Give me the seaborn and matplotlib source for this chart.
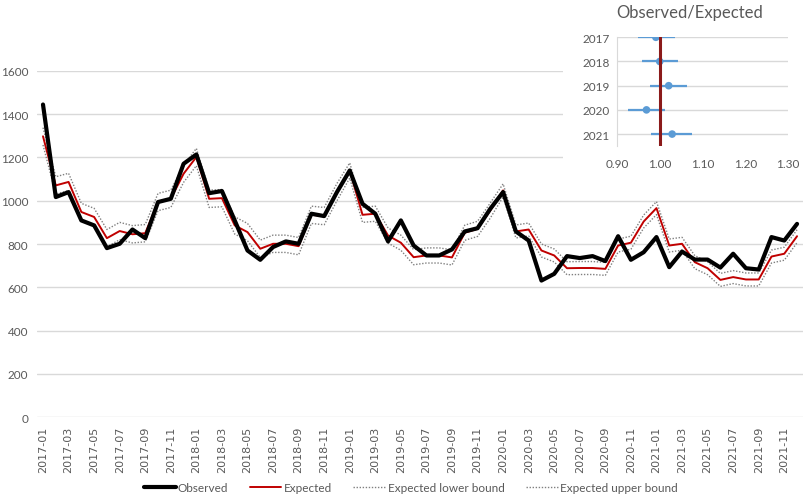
import matplotlib
matplotlib.use("Agg")
import matplotlib.pyplot as plt
import numpy as np
import seaborn as sns

months = [f"{y}-{m:02d}" for y in range(2017, 2022) for m in range(1, 13)]

observed = [
    1445, 1017, 1040, 909, 886, 781, 801, 867, 827, 994, 1009, 1171,
    1214, 1035, 1045, 909, 770, 727, 786, 812, 801, 940, 929, 1040,
    1140, 986, 940, 812, 909, 793, 747, 747, 775, 858, 873, 963,
    1040, 858, 816, 631, 662, 744, 735, 744, 721, 836, 727, 762,
    832, 693, 765, 728, 728, 691, 755, 688, 682, 832, 816, 893,
]
expected = [
    1298, 1071, 1087, 948, 925, 827, 860, 845, 850, 994, 1009, 1125,
    1202, 1009, 1012, 886, 855, 778, 801, 801, 790, 935, 929, 1040,
    1140, 935, 940, 839, 806, 739, 747, 747, 738, 852, 870, 955,
    1048, 858, 867, 770, 747, 688, 689, 689, 685, 793, 806, 904,
    966, 793, 801, 716, 688, 634, 647, 636, 636, 742, 755, 836,
]
lower = [
    1258, 1031, 1047, 908, 885, 787, 820, 805, 810, 954, 969, 1085,
    1162, 969, 972, 846, 815, 738, 761, 761, 750, 895, 889, 1000,
    1105, 900, 905, 804, 771, 704, 712, 712, 703, 817, 835, 920,
    1018, 828, 837, 740, 717, 658, 659, 659, 655, 763, 776, 874,
    936, 763, 771, 686, 658, 604, 617, 606, 606, 712, 725, 806,
]
upper = [
    1338, 1111, 1127, 988, 965, 867, 900, 885, 890, 1034, 1049, 1165,
    1242, 1049, 1052, 926, 895, 818, 841, 841, 830, 975, 969, 1080,
    1175, 970, 975, 874, 841, 774, 782, 782, 773, 887, 905, 990,
    1078, 888, 897, 800, 777, 718, 719, 719, 715, 823, 836, 934,
    996, 823, 831, 746, 718, 664, 677, 666, 666, 772, 785, 866,
]

years = ["2017", "2018", "2019", "2020", "2021"]
ratio = [0.991, 1.000, 1.021, 0.969, 1.029]
ratio_low = [0.949, 0.959, 0.978, 0.926, 0.980]
ratio_high = [1.035, 1.043, 1.064, 1.012, 1.076]

sns.set_style("white")
plt.rcParams["font.family"] = ["Lato", "DejaVu Sans"]
TEXT = "#595959"
GRID = "#D9D9D9"

fig = plt.figure(figsize=(8.1, 5.02), dpi=100)
ax = fig.add_axes([0.0452, 0.1673, 0.9467, 0.6893])

x = np.arange(len(months))
sns.lineplot(x=x, y=upper, ax=ax, color="#808080", lw=1, linestyle=(0, (1, 1.2)),
             label="Expected upper bound", zorder=2)
sns.lineplot(x=x, y=lower, ax=ax, color="#808080", lw=1, linestyle=(0, (1, 1.2)),
             label="Expected lower bound", zorder=2)
sns.lineplot(x=x, y=observed, ax=ax, color="black", lw=3, label="Observed", zorder=4)
sns.lineplot(x=x, y=expected, ax=ax, color="#C00000", lw=1.4, label="Expected", zorder=3)

ax.set_xlim(-0.5, len(months) - 0.5)
ax.set_ylim(0, 1600)
ax.set_yticks(range(0, 1601, 200))
ax.set_xticks(x[::2])
ax.set_xticklabels(months[::2], rotation=90, fontsize=8, color=TEXT, family="DejaVu Sans")
ax.tick_params(axis="y", labelsize=8.5, colors=TEXT, length=0, pad=6)
ax.tick_params(axis="x", length=0, pad=6)
ax.yaxis.grid(True, color=GRID, lw=1)
ax.set_axisbelow(True)
for s in ax.spines.values():
    s.set_visible(False)
ax.set_xlabel("")
ax.set_ylabel("")

handles, labels = ax.get_legend_handles_labels()
order = [labels.index(n) for n in ["Observed", "Expected", "Expected lower bound", "Expected upper bound"]]
ax.legend([handles[i] for i in order], [labels[i] for i in order],
          loc="center", bbox_to_anchor=(0.507, 0.026), bbox_transform=fig.transFigure,
          ncol=4, frameon=False, fontsize=8.5, handlelength=2.7, columnspacing=1.8,
          handletextpad=0.2, labelcolor=TEXT)

# white chart box behind the inset hides the main gridlines
box = fig.add_axes([0.695, 0.641, 0.305, 0.359])
box.set_facecolor("white")
box.set_xticks([])
box.set_yticks([])
for s in box.spines.values():
    s.set_visible(False)

# inset: observed/expected ratio by year
ins = fig.add_axes([0.7617, 0.7078, 0.2111, 0.2159])
yy = np.arange(len(years))
for i in yy:
    ins.axhline(i, color=GRID, lw=1, zorder=0)
ins.hlines(yy, ratio_low, ratio_high, color="#5B9BD5", lw=1.6, zorder=2)
sns.scatterplot(x=ratio, y=yy, ax=ins, color="#5B9BD5", s=30, edgecolor="none", zorder=3)
ins.axvline(1.0, color="#8B1A1A", lw=2.2, zorder=4)
ins.set_xlim(0.9, 1.3)
ins.set_ylim(4.48, 0)
ins.set_xticks([0.9, 1.0, 1.1, 1.2, 1.3])
ins.set_xticklabels([f"{v:.2f}" for v in [0.9, 1.0, 1.1, 1.2, 1.3]])
ins.set_yticks(yy)
ins.set_yticklabels(years)
ins.tick_params(labelsize=8.5, colors=TEXT, length=0, pad=5)
ins.tick_params(axis="x", pad=9)
ins.patch.set_alpha(0)
for side in ["top", "right", "bottom"]:
    ins.spines[side].set_visible(False)
ins.spines["left"].set_color(GRID)
fig.text(690 / 810, 1 - 13 / 502, "Observed/Expected", fontsize=12, color=TEXT,
         ha="center", va="center")

fig.savefig("out.png", dpi=100)
